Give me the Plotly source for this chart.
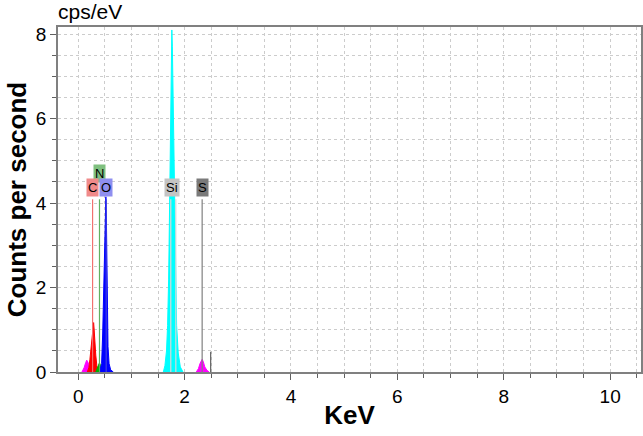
"""EDS spectrum: counts per second vs energy with element line markers."""

import plotly.graph_objects as go

# spectrum segments (energy in keV, counts in cps/eV)
mg_lo_kev = [0.07, 0.11, 0.14, 0.16, 0.18, 0.21, 0.25, 0.29]
mg_lo_cps = [0, 0.10, 0.22, 0.28, 0.24, 0.13, 0.04, 0]

c_kev = [0.17, 0.20, 0.22, 0.24, 0.26, 0.27, 0.28, 0.29, 0.30, 0.31, 0.33, 0.35, 0.38]
c_cps = [0, 0.10, 0.30, 0.55, 0.85, 1.00, 1.10, 1.17, 1.00, 0.75, 0.40, 0.15, 0]

n_kev = [0.33, 0.36, 0.38, 0.40, 0.42, 0.44, 0.47]
n_cps = [0, 0.08, 0.17, 0.22, 0.15, 0.06, 0]

o_kev = [0.40, 0.44, 0.46, 0.48, 0.50, 0.51, 0.52, 0.53, 0.54, 0.55, 0.56, 0.58, 0.61, 0.66]
o_cps = [0, 0.20, 0.90, 2.30, 3.30, 3.60, 4.15, 3.60, 2.40, 1.30, 0.60, 0.20, 0.05, 0]

si_kev = [1.60, 1.63, 1.66, 1.68, 1.70, 1.72, 1.74, 1.75, 1.76, 1.77, 1.79, 1.81, 1.83, 1.85, 1.88, 1.92, 1.97]
si_cps = [0, 0.15, 0.50, 1.10, 2.20, 3.90, 5.80, 7.60, 8.10, 7.70, 5.90, 3.90, 2.20, 1.10, 0.45, 0.12, 0]

mg_hi_kev = [2.22, 2.26, 2.29, 2.31, 2.33, 2.35, 2.38, 2.42, 2.46]
mg_hi_cps = [0, 0.08, 0.20, 0.27, 0.30, 0.25, 0.12, 0.04, 0]

# element marker lines
marker_kev = [0.27, 0.40, 0.526, 1.74, 1.835, 2.33, 2.49]
marker_top = [4.09, 4.09, 4.09, 4.09, 4.09, 4.09, 0.48]
marker_color = ["#f07070", "#60b060", "#4040e0", "#d8d8d8", "#d8d8d8", "#808080", "#606060"]

# element labels
label_text = ["N", "C", "O", "Si", "S"]
label_kev = [0.40, 0.27, 0.526, 1.76, 2.33]
label_cps = [4.70, 4.37, 4.37, 4.37, 4.37]
label_bg = ["#7fc07f", "#f08a8a", "#8f8ff0", "#c4c4c4", "#7a7a7a"]

segments = [
    (mg_lo_kev, mg_lo_cps, "#ff00ff"),
    (c_kev, c_cps, "#ff0000"),
    (n_kev, n_cps, "#00b000"),
    (o_kev, o_cps, "#0000ff"),
    (si_kev, si_cps, "#00ffff"),
    (mg_hi_kev, mg_hi_cps, "#ff00ff"),
]

FONT = "Liberation Sans, Arial"

fig = go.Figure()

for kev, cps, color in segments:
    fig.add_trace(
        go.Scatter(
            x=kev, y=cps, mode="lines", fill="tozeroy",
            line=dict(color=color, width=1), fillcolor=color, showlegend=False,
        )
    )

for kev, top, color in zip(marker_kev, marker_top, marker_color):
    fig.add_trace(
        go.Scatter(x=[kev, kev], y=[0, top], mode="lines", line=dict(color=color, width=1.2), showlegend=False)
    )

for text, kev, cps, bg in zip(label_text, label_kev, label_cps, label_bg):
    fig.add_annotation(
        x=kev, y=cps, xref="x", yref="y", text=text, showarrow=False,
        bgcolor=bg, borderpad=1, font=dict(family=FONT, size=13, color="#000000"),
    )

fig.add_annotation(
    x=0.0, y=1.0, xref="paper", yref="paper", xanchor="left", yanchor="bottom", xshift=-2, yshift=2,
    text="cps/eV", showarrow=False, font=dict(family=FONT, size=21, color="#000000"),
)

axis_common = dict(
    showline=True, linecolor="#808080", linewidth=1.5, mirror=True,
    ticks="outside", ticklen=6, tickcolor="#606060", tickwidth=1,
    showgrid=True, gridcolor="#cccccc", griddash="dot", gridwidth=1,
    zeroline=False, automargin=False, tickfont=dict(family=FONT, size=19, color="#000000"),
)

fig.update_xaxes(
    **axis_common, range=[-0.38, 10.58], dtick=2, tick0=0,
    minor=dict(dtick=0.5, ticks="outside", ticklen=4, tickcolor="#606060", showgrid=True,
               gridcolor="#cccccc", griddash="dot"),
    title=dict(text="<b>KeV</b>", font=dict(family=FONT, size=26, color="#000000"), standoff=0),
)
fig.update_yaxes(
    **axis_common, range=[0, 8.17], dtick=2, tick0=0,
    minor=dict(dtick=0.5, ticks="outside", ticklen=4, tickcolor="#606060", showgrid=True,
               gridcolor="#cccccc", griddash="dot"),
    title=dict(text="<b>Counts per second</b>", font=dict(family=FONT, size=26, color="#000000"), standoff=2),
)

fig.update_layout(
    width=643, height=436,
    margin=dict(l=58, r=2, t=27, b=64),
    plot_bgcolor="#ffffff", paper_bgcolor="#ffffff",
)

# the page's default body margin would push the fixed-size figure off the window
fig.write_html(
    "out.html",
    config={"displayModeBar": False},
    post_script="document.body.style.margin='0';document.body.style.overflow='hidden';",
)
